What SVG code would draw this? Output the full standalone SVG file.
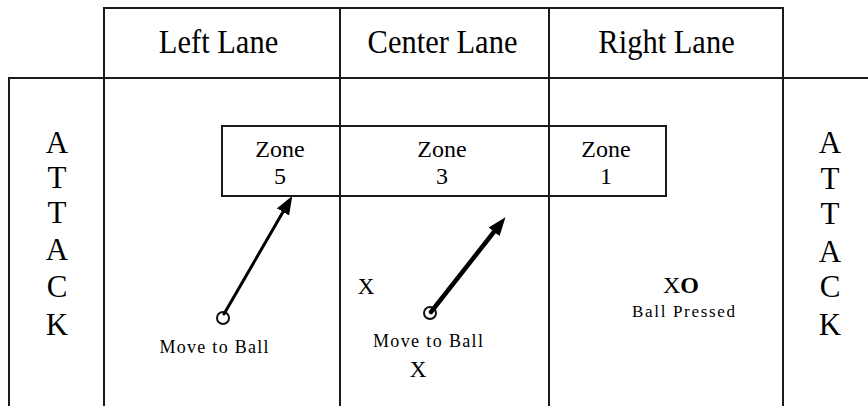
<svg xmlns="http://www.w3.org/2000/svg" width="868" height="406" viewBox="0 0 868 406">
<style>
  .ln { stroke:#1a1a1a; stroke-width:2; fill:none; }
  .t { font-family:"Liberation Serif","Times New Roman",serif; fill:#000; text-anchor:middle; }
  .hd { font-size:30.5px; }
  .atk { font-size:31px; }
  .zn { font-size:24px; }
  .pl { font-size:23px; }
  .lbl { font-size:18px; }
  .arr { stroke:#000; fill:none; stroke-linecap:round; }
</style>
<defs>
  <marker id="ah" markerUnits="userSpaceOnUse" markerWidth="19" markerHeight="15" refX="8" refY="7.5" orient="auto" viewBox="0 0 19 15">
    <path d="M0,0.5 L18.5,7.5 L0,14.5 Z" fill="#000"/>
  </marker>
</defs>
<rect width="868" height="406" fill="#fff"/>

<g id="grid">
  <rect class="ln" x="104" y="8" width="679" height="70"/>
  <line class="ln" x1="340" y1="8" x2="340" y2="406"/>
  <line class="ln" x1="549" y1="8" x2="549" y2="406"/>
  <line class="ln" x1="8" y1="78" x2="868" y2="78"/>
  <line class="ln" x1="9" y1="78" x2="9" y2="406"/>
  <line class="ln" x1="104" y1="78" x2="104" y2="406"/>
  <line class="ln" x1="783" y1="78" x2="783" y2="406"/>
</g>

<g id="header-left"><text class="t hd" transform="translate(218.5,53) scale(1,1.12)">Left Lane</text></g>
<g id="header-center"><text class="t hd" transform="translate(442.5,53) scale(1,1.12)">Center Lane</text></g>
<g id="header-right"><text class="t hd" transform="translate(666.5,53) scale(1,1.12)">Right Lane</text></g>

<g id="attack-left">
  <text class="t atk" x="57" y="153">A</text>
  <text class="t atk" x="57" y="188">T</text>
  <text class="t atk" x="57" y="223">T</text>
  <text class="t atk" x="57" y="260">A</text>
  <text class="t atk" x="57" y="297">C</text>
  <text class="t atk" x="57" y="335">K</text>
</g>
<g id="attack-right">
  <text class="t atk" x="830" y="153">A</text>
  <text class="t atk" x="830" y="189">T</text>
  <text class="t atk" x="830" y="224">T</text>
  <text class="t atk" x="830" y="262">A</text>
  <text class="t atk" x="830" y="297">C</text>
  <text class="t atk" x="830" y="335">K</text>
</g>

<g id="zones">
  <rect class="ln" x="222" y="126" width="444" height="70"/>
</g>
<g id="zone-5">
  <text class="t zn" x="280" y="157">Zone</text>
  <text class="t zn" x="280" y="184">5</text>
</g>
<g id="zone-3">
  <text class="t zn" x="442" y="157">Zone</text>
  <text class="t zn" x="442" y="184">3</text>
</g>
<g id="zone-1">
  <text class="t zn" x="606" y="157">Zone</text>
  <text class="t zn" x="606" y="184">1</text>
</g>

<g id="player-left">
  <circle cx="223" cy="318" r="6" fill="none" stroke="#111" stroke-width="2"/>
  <text class="t lbl" x="214" y="353" textLength="109" lengthAdjust="spacing">Move to Ball</text>
</g>
<g id="player-center">
  <circle cx="430" cy="313" r="6" fill="none" stroke="#111" stroke-width="2"/>
  <text class="t lbl" x="428" y="347" textLength="110" lengthAdjust="spacing">Move to Ball</text>
</g>
<g id="x-center-left"><text class="t pl" x="366" y="294">X</text></g>
<g id="x-center-bottom"><text class="t pl" x="418" y="377">X</text></g>
<g id="ball-pressed">
  <text class="t" style="font-size:24px" x="681" y="293">X<tspan font-weight="bold">O</tspan></text>
  <text class="t lbl" style="font-size:17px" x="683.5" y="317" textLength="103" lengthAdjust="spacing">Ball Pressed</text>
</g>

<g id="connectors">
  <line class="arr" x1="224" y1="314" x2="287" y2="205" stroke-width="3" marker-end="url(#ah)"/>
  <line class="arr" x1="431" y1="312" x2="499" y2="225.5" stroke-width="4.5" marker-end="url(#ah)"/>
</g>
</svg>
